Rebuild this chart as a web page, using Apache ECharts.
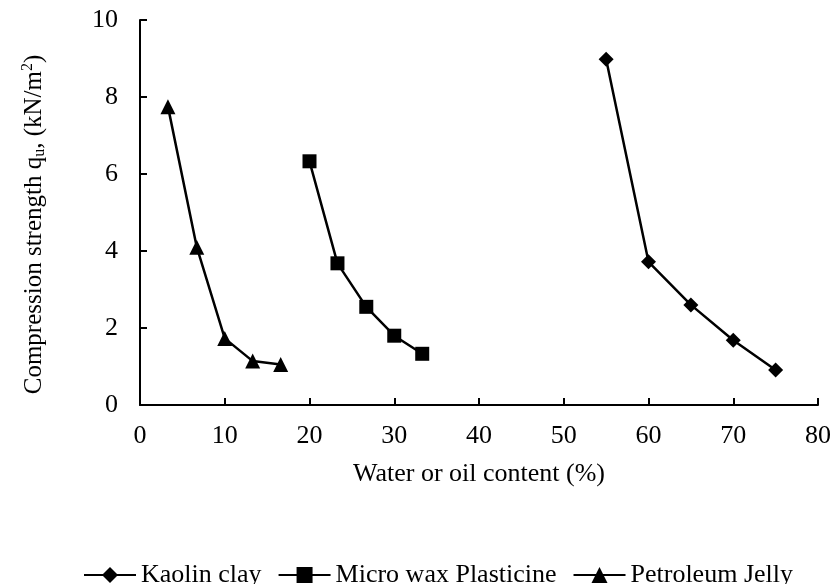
<!DOCTYPE html>
<html>
<head>
<meta charset="utf-8">
<script src="https://cdn.jsdelivr.net/npm/echarts@6/dist/echarts.min.js"></script>
<style>
  html, body { margin: 0; padding: 0; background: #fff; }
  #chart { width: 834px; height: 584px; }
</style>
</head>
<body>
<div id="chart"></div>
<script>
  // values
  let kaolinX = [55, 60, 65, 70, 75];
  let kaolinY = [8.98, 3.72, 2.6, 1.68, 0.91];
  let waxX = [20, 23.3, 26.7, 30, 33.3];
  let waxY = [6.33, 3.68, 2.55, 1.8, 1.33];
  let jellyX = [3.3, 6.7, 10, 13.3, 16.6];
  let jellyY = [7.75, 4.1, 1.73, 1.14, 1.05];

  let font = 'Liberation Serif';

  function pairs(xs, ys) {
    return xs.map((x, i) => [x, ys[i]]);
  }

  function lineSeries(name, xs, ys, symbol, size) {
    return {
      name: name,
      type: 'line',
      data: pairs(xs, ys),
      symbol: symbol,
      symbolSize: size,
      itemStyle: { color: '#000' },
      lineStyle: { color: '#000', width: 2.5 }
    };
  }

  let chart = echarts.init(document.getElementById('chart'));
  chart.setOption({
    animation: false,
    textStyle: { fontFamily: font, color: '#000' },
    grid: { left: 140, right: 15, top: 20, bottom: 179 },
    legend: {
      top: 557,
      left: 78,
      itemWidth: 52,
      itemHeight: 20,
      itemGap: 16,
      textStyle: { fontFamily: font, fontSize: 26, color: '#000' },
      data: ['Kaolin clay', 'Micro wax Plasticine', 'Petroleum Jelly']
    },
    xAxis: {
      type: 'value',
      min: 0, max: 80, interval: 10,
      name: 'Water or oil content (%)',
      nameLocation: 'middle',
      nameGap: 56,
      nameTextStyle: { fontFamily: font, fontSize: 26, color: '#000' },
      axisLine: { lineStyle: { color: '#000', width: 2 } },
      axisTick: { show: true, inside: true, length: 7, lineStyle: { color: '#000', width: 2 } },
      axisLabel: { fontFamily: font, fontSize: 26, color: '#000', margin: 18 },
      splitLine: { show: false }
    },
    yAxis: {
      type: 'value',
      min: 0, max: 10, interval: 2,
      name: '{t|Compression strength q}{s|u}{t|, (kN/m}{p|2}{t|)}',
      nameLocation: 'middle',
      nameGap: 92,
      nameTextStyle: {
        fontFamily: font, color: '#000',
        padding: [0, 24, 0, 0],
        rich: {
          t: { fontFamily: font, fontSize: 25, color: '#000' },
          s: { fontFamily: font, fontSize: 16, color: '#000', verticalAlign: 'bottom', padding: [12, 0, 0, 0] },
          p: { fontFamily: font, fontSize: 16, color: '#000', verticalAlign: 'top', padding: [0, 0, 12, 0] }
        }
      },
      axisLine: { show: true, lineStyle: { color: '#000', width: 2 } },
      axisTick: { show: true, inside: true, length: 7, lineStyle: { color: '#000', width: 2 } },
      axisLabel: { fontFamily: font, fontSize: 26, color: '#000', margin: 22 },
      splitLine: { show: false }
    },
    series: [
      lineSeries('Kaolin clay', kaolinX, kaolinY, 'diamond', 15),
      lineSeries('Micro wax Plasticine', waxX, waxY, 'rect', 14),
      lineSeries('Petroleum Jelly', jellyX, jellyY, 'triangle', 15)
    ]
  });
</script>
</body>
</html>
